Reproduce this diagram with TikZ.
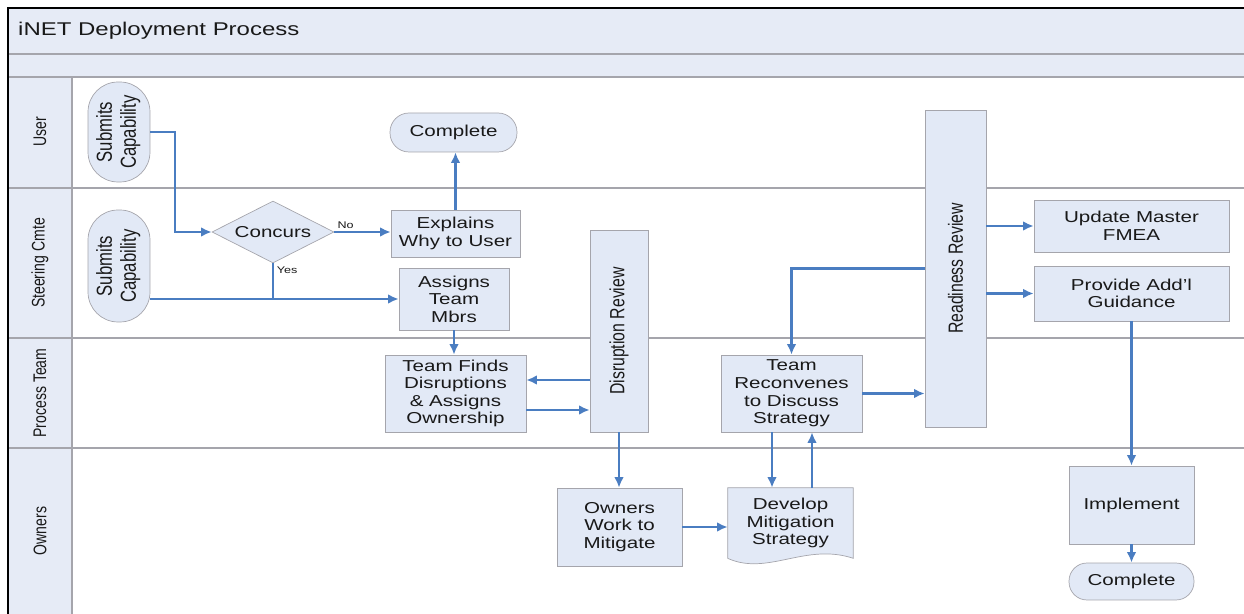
\documentclass[tikz,border=0pt]{standalone}
\usepackage{fontspec}
\setmainfont{Liberation Sans}[FakeStretch=1.3]
\newfontfamily\rotfont{Liberation Sans}
\usepackage{graphicx}
\usetikzlibrary{shapes.geometric,backgrounds,arrows.meta}
\definecolor{bande}{RGB}{230,235,246}
\definecolor{boite}{RGB}{226,233,246}
\definecolor{trait}{RGB}{165,165,172}
\definecolor{fleche}{RGB}{74,125,193}
\definecolor{texte}{RGB}{25,25,25}
\newcommand{\vlabel}[1]{\rotfont\scalebox{1}[1.3]{#1}}
\begin{document}
\begin{tikzpicture}[x=0.02cm,y=-0.02cm,
  boite/.style={draw=trait,fill=boite,inner sep=0pt,align=center,text=texte,font=\fontsize{9}{10}\selectfont},
  flux/.style={draw=fleche,line width=1.3pt,-{Latex[length=6pt,width=5.5pt]}},
  lane/.style={draw=trait,line width=0.8pt},
  petit/.style={font=\fontsize{5.5}{6}\selectfont,text=texte,inner sep=1.5pt}]
\useasboundingbox (0,0) rectangle (1244,614);
% Mise en place
\fill[bande](8,8)rectangle(1244,77);
\fill[bande](8,77)rectangle(72,614);
\draw[lane](8,54)--(1244,54);
\draw[lane](8,77)--(1244,77);
\draw[lane](72,77)--(72,614);
\foreach \y in {188,338,448} \draw[lane](8,\y)--(1244,\y);
\draw[line width=1.5pt](8,614)--(8,8)--(1244,8);
\node[anchor=west,text=texte,font=\fontsize{10.5}{12}\selectfont](titre)at(12,31){iNET Deployment Process};
% Couloirs
\node[rotate=90,text=texte,font=\fontsize{8}{9}\selectfont](user)at(40,132){\vlabel{User}};
\node[rotate=90,text=texte,font=\fontsize{8}{9}\selectfont](cmte)at(40,263){\vlabel{Steering Cmte}};
\node[rotate=90,text=texte,font=\fontsize{8}{9}\selectfont](team)at(40,393){\vlabel{Process Team}};
\node[rotate=90,text=texte,font=\fontsize{8}{9}\selectfont](own)at(40,531){\vlabel{Owners}};
% Etapes
\node[boite,rotate=90,rounded corners=0.6cm,minimum width=2cm,minimum height=1.24cm,font=\fontsize{9.5}{10.5}\selectfont](subU)at(119,132){\vlabel{\begin{tabular}{@{}c@{}}Submits\\Capability\end{tabular}}};
\node[boite,rotate=90,rounded corners=0.6cm,minimum width=2.24cm,minimum height=1.24cm,font=\fontsize{9.5}{10.5}\selectfont](subS)at(119,266){\vlabel{\begin{tabular}{@{}c@{}}Submits\\Capability\end{tabular}}};
\node[boite,diamond,aspect=2,minimum width=2.44cm,minimum height=1.24cm](concurs)at(273,232){Concurs};
\node[boite,minimum width=2.58cm,minimum height=0.94cm](explain)at(455.5,233.5){Explains\\Why to User};
\node[boite,rounded corners=0.38cm,minimum width=2.54cm,minimum height=0.78cm](compU)at(453.5,132.5){Complete};
\node[boite,minimum width=2.2cm,minimum height=1.24cm](assign)at(454,299){Assigns\\Team\\Mbrs};
\node[boite,minimum width=2.82cm,minimum height=1.54cm](finds)at(455.5,393.5){Team Finds\\Disruptions\\\& Assigns\\Ownership};
\node[boite,rotate=90,minimum width=4.04cm,minimum height=1.16cm](disrupt)at(619,331){\vlabel{Disruption Review}};
\node[boite,minimum width=2.5cm,minimum height=1.56cm](owners)at(619.5,527){Owners\\Work to\\Mitigate};
\node[boite,draw=none,fill=none,minimum width=2.5cm,minimum height=1.4cm](develop)at(790.5,523){Develop\\Mitigation\\Strategy};
\node[boite,minimum width=2.82cm,minimum height=1.54cm](reconv)at(791.5,393.5){Team\\Reconvenes\\to Discuss\\Strategy};
\node[boite,rotate=90,minimum width=6.34cm,minimum height=1.22cm](ready)at(955.5,268.5){\vlabel{Readiness Review}};
\node[boite,minimum width=3.9cm,minimum height=1.04cm](update)at(1131.5,226){Update Master\\FMEA};
\node[boite,minimum width=3.9cm,minimum height=1.1cm](guide)at(1131.5,293.5){Provide Add'l\\Guidance};
\node[boite,minimum width=2.5cm,minimum height=1.56cm](impl)at(1131.5,505){Implement};
\node[boite,rounded corners=0.36cm,minimum width=2.5cm,minimum height=0.74cm](compB)at(1131.5,581.5){Complete};
% Document
\begin{scope}[on background layer]
\draw[draw=trait,fill=boite](develop.south west)--(develop.north west)--(develop.north east)--(develop.south east)
  .. controls([xshift=-0.96cm,yshift=0.32cm]develop.south east)and([xshift=0.8cm,yshift=-0.36cm]develop.south west) .. (develop.south west);
\end{scope}
% Fleches
\draw[flux](subU.south)--++(25,0)|-(concurs.west);
\draw[flux](concurs.east)--(concurs.east-|explain.west)node[petit,pos=0.2,above]{No};
\draw[flux](explain.north)--(explain.north|-compU.south);
\draw[flux,-](concurs.south)node[petit,below right]{Yes}--(concurs.south|-assign.west);
\draw[flux](subS.south|-assign.west)--(assign.west);
\draw[flux](assign.south)--(assign.south|-finds.north);
\coordinate(fin1)at([yshift=0.27cm]finds.east);
\coordinate(fin2)at([yshift=-0.33cm]finds.east);
\draw[flux](fin1-|disrupt.north)--(fin1);
\draw[flux](fin2)--(fin2-|disrupt.north);
\draw[flux](disrupt.west)--(disrupt.west|-owners.north);
\draw[flux](owners.east)--(owners.east-|develop.west);
\coordinate(rec1)at([xshift=-0.39cm]reconv.south);
\coordinate(rec2)at([xshift=0.41cm]reconv.south);
\draw[flux](rec1)--(rec1|-develop.north);
\draw[flux](rec2|-develop.north)--(rec2);
\draw[flux](ready.north)-|(reconv.north);
\draw[flux](reconv.east)--(reconv.east-|ready.north);
\draw[flux](update.west-|ready.south)--(update.west);
\draw[flux](guide.west-|ready.south)--(guide.west);
\draw[flux](guide.south)--(impl.north);
\draw[flux](impl.south)--(compB.north);
\end{tikzpicture}
\end{document}
